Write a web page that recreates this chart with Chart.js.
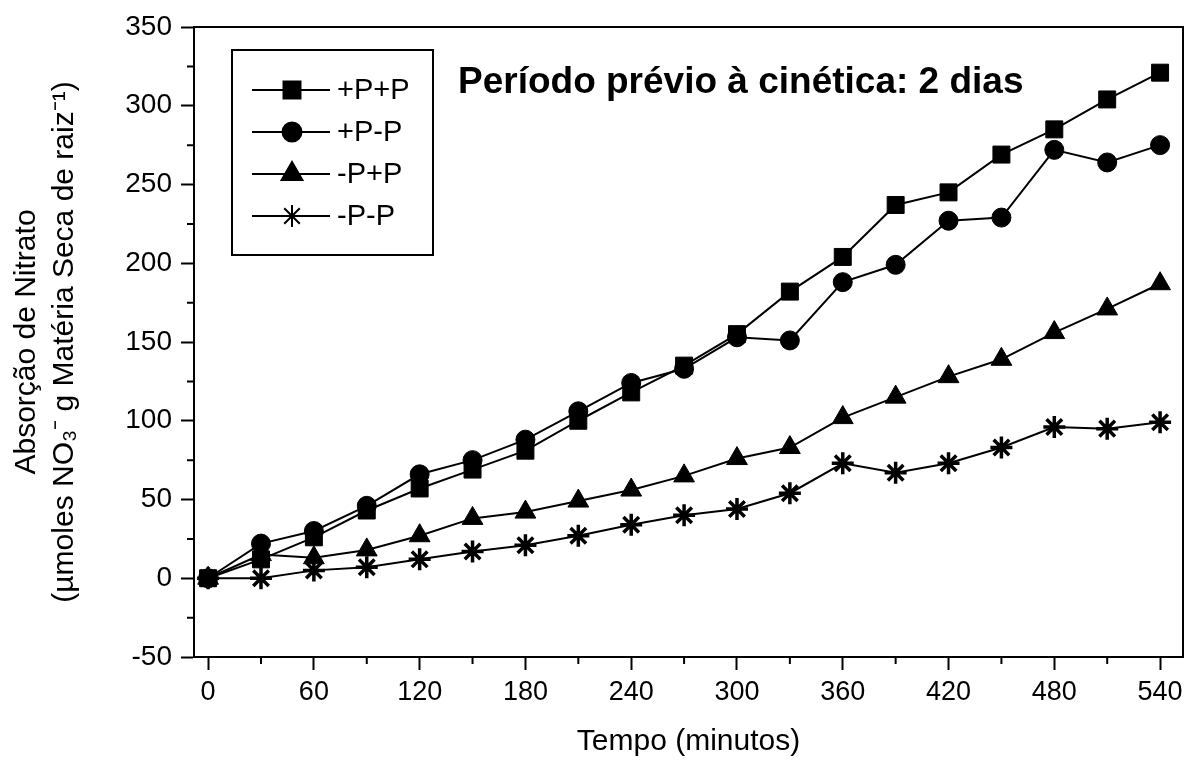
<!DOCTYPE html>
<html>
<head>
<meta charset="utf-8">
<script src="https://cdn.jsdelivr.net/npm/chart.js@4/dist/chart.umd.min.js"></script>
<style>
  html, body { margin: 0; padding: 0; background: #fff; overflow: hidden; }
  #wrap { width: 1191px; height: 762px; }
  canvas { display: block; }
</style>
</head>
<body>
<div id="wrap"><canvas id="chart"></canvas></div>
<script>
const tempo = [0, 30, 60, 90, 120, 150, 180, 210, 240, 270, 300, 330, 360, 390, 420, 450, 480, 510, 540];
const pp = [0, 12, 26, 43, 57, 69, 81, 100, 118, 135, 155, 182, 204, 237, 245, 269, 285, 304, 321];
const pm = [0, 22, 30, 46, 66, 75, 88, 106, 124, 133, 153, 151, 188, 199, 227, 229, 272, 264, 275];
const mp = [0, 15, 13, 18, 27, 38, 42, 49, 56, 65, 76, 83, 102, 115, 128, 139, 156, 171, 187];
const mm = [0, 0, 5, 7, 12, 17, 21, 27, 34, 40, 44, 54, 73, 67, 73, 83, 96, 95, 99];
const seriesLabels = ['+P+P', '+P-P', '-P+P', '-P-P'];
const xTicks = [0, 60, 120, 180, 240, 300, 360, 420, 480, 540];
const yTicks = [-50, 0, 50, 100, 150, 200, 250, 300, 350];
const note = 'Período prévio à cinética: 2 dias';

const sans = "'Liberation Sans', Arial, sans-serif";

const styles = [
  { pointStyle: 'rect', radius: 12, borderWidth: 1 },
  { pointStyle: 'circle', radius: 9.5, borderWidth: 1 },
  { pointStyle: 'triangle', radius: 12, borderWidth: 1 },
  { pointStyle: 'star', radius: 11, borderWidth: 3.5 }
];

function makeSet(label, values, st) {
  return {
    label: label,
    data: tempo.map((t, i) => ({ x: t, y: values[i] })),
    borderColor: '#000',
    backgroundColor: '#000',
    borderWidth: 2,
    pointStyle: st.pointStyle,
    pointRadius: st.radius,
    pointBorderWidth: st.borderWidth,
    pointBackgroundColor: '#000',
    pointBorderColor: '#000',
    tension: 0
  };
}

// frame, minor ticks, legend box and note
const extras = {
  id: 'extras',
  afterDraw(chart) {
    const ctx = chart.ctx;
    const a = chart.chartArea;
    const xs = chart.scales.x, ys = chart.scales.y;
    ctx.save();
    ctx.strokeStyle = '#000';
    ctx.lineWidth = 2;
    ctx.strokeRect(a.left, a.top, a.right - a.left, a.bottom - a.top);

    ctx.beginPath();
    for (let v = -25; v < 350; v += 50) {
      const y = ys.getPixelForValue(v);
      ctx.moveTo(a.left - 7, y);
      ctx.lineTo(a.left, y);
    }
    for (let v = 30; v < 540; v += 60) {
      const x = xs.getPixelForValue(v);
      ctx.moveTo(x, a.bottom);
      ctx.lineTo(x, a.bottom + 7);
    }
    ctx.stroke();

    // legend box
    ctx.strokeRect(232, 50, 201, 205);
    ctx.font = '29px ' + sans;
    ctx.fillStyle = '#000';
    ctx.textBaseline = 'middle';
    chart.data.datasets.forEach((ds, i) => {
      const y = 90 + i * 42;
      ctx.lineWidth = 2;
      ctx.beginPath();
      ctx.moveTo(252, y);
      ctx.lineTo(330, y);
      ctx.stroke();
      Chart.helpers.drawPoint(ctx, {
        pointStyle: ds.pointStyle,
        radius: ds.pointRadius,
        borderWidth: ds.pointBorderWidth,
        rotation: 0
      }, 292, y);
      ctx.fillStyle = '#000';
      ctx.strokeStyle = '#000';
      ctx.fillText(ds.label, 337, y + 1);
    });

    ctx.font = 'bold 37px ' + sans;
    ctx.textBaseline = 'alphabetic';
    ctx.fillText(note, 458, 93);
    ctx.restore();
  }
};

new Chart(document.getElementById('chart'), {
  type: 'line',
  data: {
    datasets: [
      makeSet(seriesLabels[0], pp, styles[0]),
      makeSet(seriesLabels[1], pm, styles[1]),
      makeSet(seriesLabels[2], mp, styles[2]),
      makeSet(seriesLabels[3], mm, styles[3])
    ]
  },
  options: {
    responsive: true,
    maintainAspectRatio: false,
    animation: false,
    layout: { autoPadding: false, padding: { top: 27, right: 8, left: 0, bottom: 0 } },
    plugins: {
      legend: { display: false },
      tooltip: { enabled: false }
    },
    scales: {
      x: {
        type: 'linear',
        min: -8,
        max: 553,
        afterBuildTicks: s => { s.ticks = xTicks.map(v => ({ value: v })); },
        afterFit: s => { s.height = 105; s.paddingLeft = 0; s.paddingRight = 0; },
        grid: { drawOnChartArea: false, tickLength: 13, tickWidth: 2, color: '#000' },
        border: { color: '#000', width: 2 },
        ticks: { color: '#000', padding: 6, maxRotation: 0, font: { family: sans, size: 27 } },
        title: { display: true, text: 'Tempo (minutos)', color: '#000', padding: { top: 0, bottom: 2 }, font: { family: sans, size: 30 } }
      },
      y: {
        min: -50,
        max: 350,
        afterBuildTicks: s => { s.ticks = yTicks.map(v => ({ value: v })); },
        afterFit: s => { s.width = 194; s.paddingTop = 0; s.paddingBottom = 0; },
        grid: { drawOnChartArea: false, tickLength: 13, tickWidth: 2, color: '#000' },
        border: { color: '#000', width: 2 },
        ticks: { color: '#000', padding: 9, font: { family: sans, size: 28 } },
        title: {
          display: true,
          text: ['Absorção de Nitrato', '(µmoles NO₃⁻ g Matéria Seca de raiz⁻¹)'],
          color: '#000',
          padding: { top: 8, bottom: 0 },
          font: { family: sans, size: 30, lineHeight: 1.25 }
        }
      }
    }
  },
  plugins: [extras]
});
</script>
</body>
</html>
